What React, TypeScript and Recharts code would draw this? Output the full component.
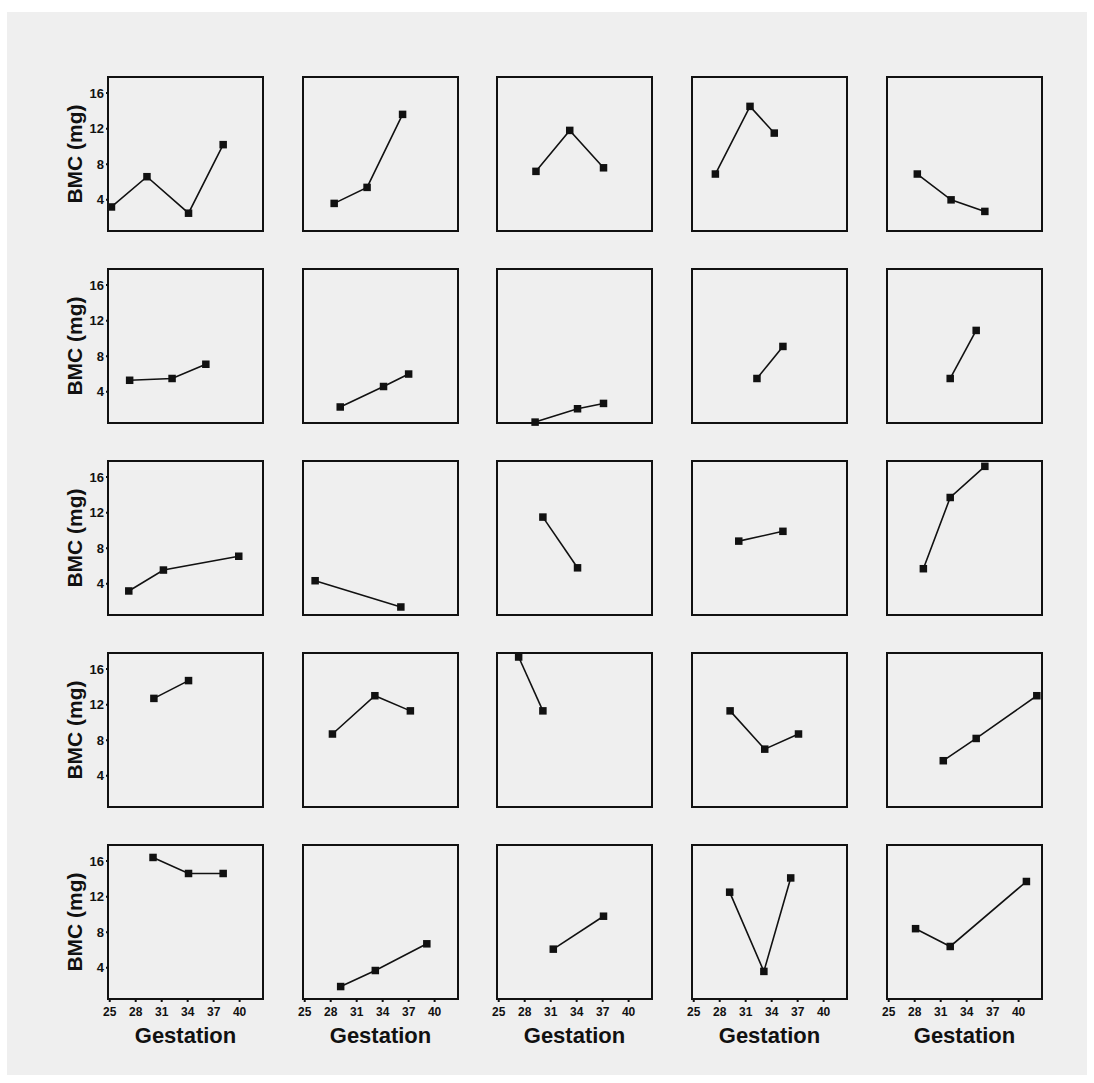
import React from 'react';
import { LineChart, Line, XAxis, YAxis, ReferenceArea } from 'recharts';

// gestation (weeks) for each of the 25 panels, row by row
const panelGestation: number[][] = [
  [25.2, 29.3, 34.1, 38.1], [28.4, 32.2, 36.3], [29.3, 33.2, 37.1], [27.5, 31.5, 34.3], [28.3, 32.2, 36.1],
  [27.3, 32.2, 36.1], [29.1, 34.1, 37.0], [29.2, 34.1, 37.1], [32.3, 35.3], [32.1, 35.1],
  [27.2, 31.2, 39.9], [26.2, 36.1], [30.1, 34.1], [30.2, 35.3], [29.0, 32.1, 36.1],
  [30.1, 34.1], [28.2, 33.1, 37.2], [27.3, 30.1], [29.2, 33.2, 37.1], [31.3, 35.1, 42.1],
  [30.0, 34.1, 38.1], [29.15, 33.15, 39.1], [31.3, 37.1], [29.15, 33.1, 36.2], [28.1, 32.1, 40.9],
];

// BMC (mg), same order
const panelBmc: number[][] = [
  [3.2, 6.6, 2.5, 10.2], [3.6, 5.4, 13.6], [7.2, 11.8, 7.6], [6.9, 14.5, 11.5], [6.9, 4.0, 2.7],
  [5.3, 5.5, 7.1], [2.3, 4.6, 6.0], [0.6, 2.1, 2.7], [5.5, 9.1], [5.5, 10.9],
  [3.2, 5.55, 7.1], [4.35, 1.4], [11.5, 5.8], [8.8, 9.9], [5.7, 13.7, 17.2],
  [12.7, 14.7], [8.7, 13.0, 11.3], [17.35, 11.3], [11.3, 7.0, 8.7], [5.7, 8.2, 13.0],
  [16.4, 14.6, 14.6], [1.9, 3.7, 6.7], [6.1, 9.8], [12.5, 3.6, 14.1], [8.4, 6.4, 13.7],
];

const xTicks = [25, 28, 31, 34, 37, 40];
const yTicks = [4, 8, 12, 16];
const xDomain: [number, number] = [24.8, 42.7];
const yDomain: [number, number] = [0.5, 17.8];

const BOX_W = 155;
const BOX_H = 154;
const Y_AXIS_W = 66;
const X_AXIS_H = 72;
const PAD = 4;

const SquareDot = (props: any) => {
  const { cx, cy, index } = props;
  if (cx == null || cy == null) return null;
  return <rect key={`d-${index}`} x={cx - 3.75} y={cy - 3.75} width={7.5} height={7.5} fill="#111" />;
};

function Panel({ idx }: { idx: number }) {
  const row = Math.floor(idx / 5);
  const col = idx % 5;
  const boxLeft = 108 + col * 194.7;
  const boxTop = 77 + row * 192;
  const data = panelGestation[idx].map((g, i) => ({ g, v: panelBmc[idx][i] }));
  const showY = col === 0;
  const showX = row === 4;

  return (
    <div style={{ position: 'absolute', left: boxLeft - Y_AXIS_W, top: boxTop - PAD }}>
      <LineChart
        width={Y_AXIS_W + BOX_W + PAD}
        height={PAD + BOX_H + X_AXIS_H}
        data={data}
        margin={{ top: PAD, right: PAD, bottom: 0, left: 0 }}
      >
        <XAxis
          dataKey="g"
          type="number"
          domain={xDomain}
          ticks={xTicks}
          height={X_AXIS_H}
          axisLine={false}
          tickLine={{ stroke: '#111', strokeWidth: 2 }}
          tickSize={3}
          tickMargin={5}
          tick={showX ? { fontSize: 12, fontWeight: 700, fill: '#111' } : false}
          label={
            showX
              ? { value: 'Gestation', position: 'center', fontSize: 22, fontWeight: 700, fill: '#111' }
              : undefined
          }
        />
        <YAxis
          dataKey="v"
          type="number"
          domain={yDomain}
          ticks={yTicks}
          width={Y_AXIS_W}
          axisLine={false}
          tickLine={{ stroke: '#111', strokeWidth: 2 }}
          tickSize={2}
          tickMargin={2}
          tick={showY ? { fontSize: 13, fontWeight: 700, fill: '#111' } : false}
          label={
            showY
              ? { value: 'BMC (mg)', angle: -90, position: 'center', fontSize: 21, fontWeight: 700, fill: '#111' }
              : undefined
          }
        />
        <ReferenceArea
          x1={xDomain[0]}
          x2={xDomain[1]}
          y1={yDomain[0]}
          y2={yDomain[1]}
          fill="none"
          stroke="#111"
          strokeWidth={2}
          ifOverflow="visible"
        />
        <Line
          dataKey="v"
          stroke="#111"
          strokeWidth={1.6}
          dot={<SquareDot />}
          activeDot={false}
          isAnimationActive={false}
        />
      </LineChart>
    </div>
  );
}

export default function App() {
  return (
    <div
      style={{
        position: 'absolute',
        left: 0,
        top: 0,
        width: 1094,
        height: 1083,
        background: '#fff',
        fontFamily: 'Arial, "Liberation Sans", sans-serif',
      }}
    >
      <div style={{ position: 'absolute', left: 7, top: 12, width: 1080, height: 1063, background: '#efefef' }} />
      {panelGestation.map((_, i) => (
        <Panel key={i} idx={i} />
      ))}
    </div>
  );
}
